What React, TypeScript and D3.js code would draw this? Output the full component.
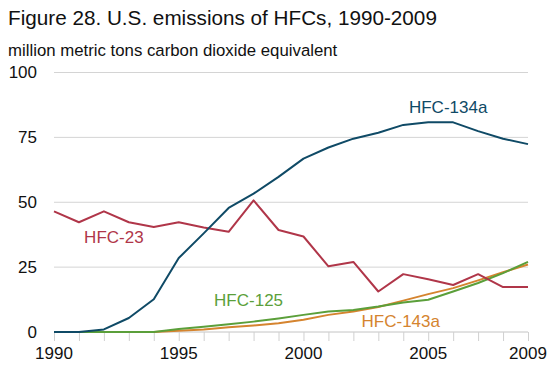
import React, { useEffect, useRef } from 'react';
import * as d3 from 'd3';

const years = d3.range(1990, 2010);

const hfc134a = [0, 0, 1, 5.4, 12.6, 28.5, 38, 47.8, 53.3, 59.8, 66.8, 71.1, 74.5, 76.8, 79.8, 80.8, 80.8, 77.4, 74.5, 72.4];
const hfc23 = [46.5, 42.3, 46.5, 42.3, 40.5, 42.3, 40.3, 38.6, 50.7, 39.3, 36.8, 25.3, 27, 15.6, 22.3, 20.3, 18.1, 22.3, 17.3, 17.3];
const hfc125 = [0, 0, 0, 0, 0, 1.2, 2, 3, 4, 5.2, 6.6, 7.9, 8.5, 9.8, 11.4, 12.4, 15.6, 18.9, 22.7, 27];
const hfc143a = [0, 0, 0, 0, 0, 0.5, 1, 1.8, 2.5, 3.4, 4.7, 6.6, 7.9, 9.6, 12.1, 14.6, 16.9, 19.9, 23, 26];

const yTicks = [0, 25, 50, 75, 100];
const xTickLabels = [1990, 1995, 2000, 2005, 2009];

const series = [
  { name: 'HFC-134a', values: hfc134a, color: '#0f4a66', labelYear: 2005.8, labelValue: 84.5 },
  { name: 'HFC-23', values: hfc23, color: '#b03649', labelYear: 1992.4, labelValue: 34.3 },
  { name: 'HFC-125', values: hfc125, color: '#5b9f3a', labelYear: 1997.8, labelValue: 10 },
  { name: 'HFC-143a', values: hfc143a, color: '#d5842f', labelYear: 2003.9, labelValue: 2 },
];

const App = () => {
  const svgRef = useRef(null);

  useEffect(() => {
    const svg = d3.select(svgRef.current);
    svg.selectAll('*').remove();

    const width = 550;
    const height = 374;
    const font = '"Liberation Sans", Arial, sans-serif';

    const x = d3.scaleLinear().domain([1990, 2009]).range([54, 528]);
    const y = d3.scaleLinear().domain([0, 100]).range([332, 72.5]);

    svg.append('rect').attr('width', width).attr('height', height).attr('fill', '#fff');

    svg.append('text')
      .attr('x', 8)
      .attr('y', 25)
      .attr('font-family', font)
      .attr('font-size', 20.7)
      .attr('fill', '#111')
      .text('Figure 28. U.S. emissions of HFCs, 1990-2009');

    svg.append('text')
      .attr('x', 8)
      .attr('y', 56)
      .attr('font-family', font)
      .attr('font-size', 16.8)
      .attr('fill', '#111')
      .text('million metric tons carbon dioxide equivalent');

    // gridlines + y labels
    const yAxis = svg.append('g');
    yAxis.selectAll('line')
      .data(yTicks.filter((d) => d > 0))
      .join('line')
      .attr('x1', x(1990))
      .attr('x2', x(2009))
      .attr('y1', (d) => y(d))
      .attr('y2', (d) => y(d))
      .attr('stroke', '#d4d4d4')
      .attr('stroke-width', 1);

    yAxis.selectAll('text')
      .data(yTicks)
      .join('text')
      .attr('x', 37)
      .attr('y', (d) => y(d))
      .attr('dy', '0.35em')
      .attr('text-anchor', 'end')
      .attr('font-family', font)
      .attr('font-size', 17)
      .attr('fill', '#111')
      .text((d) => d);

    // x axis with yearly ticks
    const xAxis = svg.append('g')
      .attr('transform', `translate(0,${y(0)})`)
      .call(d3.axisBottom(x).tickValues(years).tickSize(9).tickFormat(() => ''));
    xAxis.select('.domain').attr('stroke', '#c4c4c4').attr('d', `M${x(1990)},0H${x(2009)}`);
    xAxis.selectAll('.tick line').attr('stroke', '#d0d0d0');

    svg.append('g')
      .selectAll('text')
      .data(xTickLabels)
      .join('text')
      .attr('x', (d) => x(d))
      .attr('y', 359)
      .attr('text-anchor', 'middle')
      .attr('font-family', font)
      .attr('font-size', 17)
      .attr('fill', '#111')
      .text((d) => d);

    const line = d3
      .line()
      .x((d, i) => x(years[i]))
      .y((d) => y(d));

    // draw back to front so HFC-134a sits on top of the others
    [...series].reverse().forEach((s) => {
      svg.append('path')
        .datum(s.values)
        .attr('fill', 'none')
        .attr('stroke', s.color)
        .attr('stroke-width', 2)
        .attr('stroke-linejoin', 'round')
        .attr('d', line);
    });

    svg.append('g')
      .selectAll('text')
      .data(series)
      .join('text')
      .attr('x', (d) => x(d.labelYear))
      .attr('y', (d) => y(d.labelValue))
      .attr('text-anchor', 'middle')
      .attr('font-family', font)
      .attr('font-size', 17)
      .attr('fill', (d) => d.color)
      .text((d) => d.name);
  }, []);

  return (
    <svg
      ref={svgRef}
      width={550}
      height={374}
      style={{ position: 'absolute', left: 0, top: 0, display: 'block' }}
    ></svg>
  );
};

export default App;
